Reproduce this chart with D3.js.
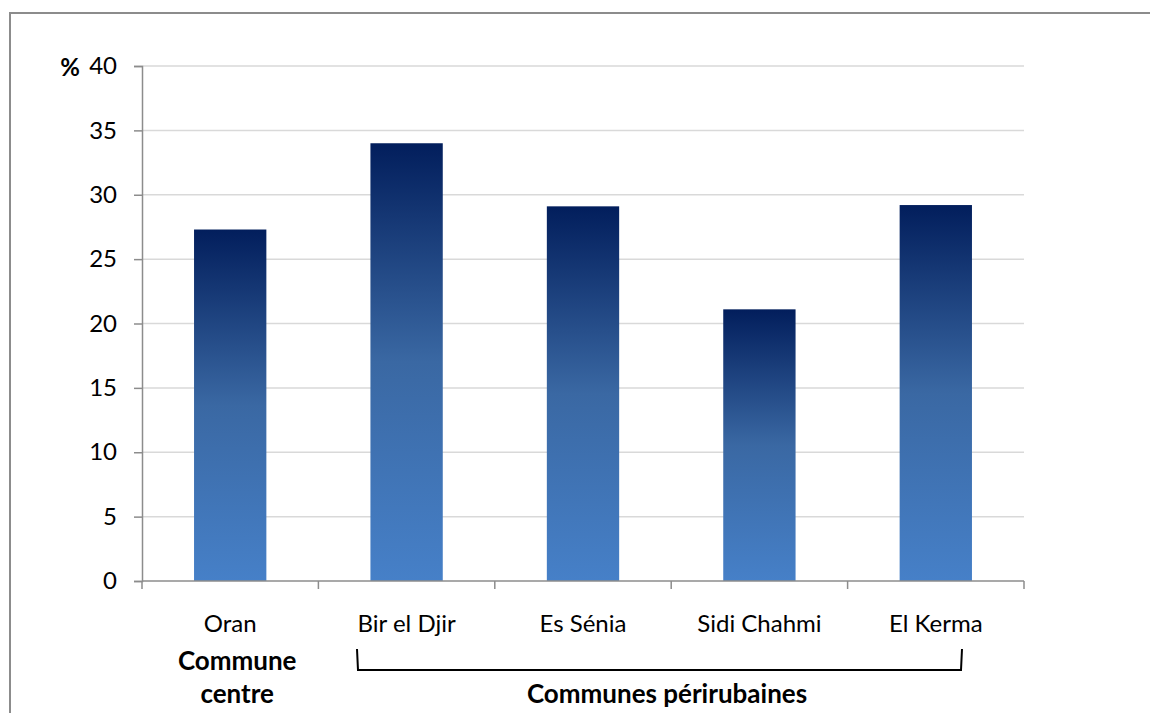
<!DOCTYPE html>
<html>
<head>
<meta charset="utf-8">
<script src="https://cdn.jsdelivr.net/npm/d3@7"></script>
<style>
  html, body { margin: 0; padding: 0; background: #fff; }
  svg { display: block; }
  text { font-family: Lato, "Open Sans", "Liberation Sans", sans-serif; fill: #000; }
</style>
</head>
<body>
<svg id="chart" width="1150" height="713"></svg>
<script>
// Share of households (%) by commune
const communes = ["Oran", "Bir el Djir", "Es Sénia", "Sidi Chahmi", "El Kerma"];
const percentages = [27.3, 34.0, 29.1, 21.1, 29.2];
const yTicks = [0, 5, 10, 15, 20, 25, 30, 35, 40];
const groupCentre = ["Commune", "centre"];
const groupPeri = "Communes périrubaines";

const svg = d3.select("#chart");
const margin = { left: 142, right: 126, top: 66, bottom: 132 };
const W = 1150, H = 713;
const fontReg = 24, fontBold = 26;

const x = d3.scaleBand().domain(communes).range([margin.left, W - margin.right]).paddingInner(0.59).paddingOuter(0.295);
const xEdges = d3.scaleLinear().domain([0, communes.length]).range([margin.left, W - margin.right]);
const y = d3.scaleLinear().domain([0, 40]).range([H - margin.bottom, margin.top]);

// outer frame
svg.append("path")
  .attr("d", `M10,${H + 2} L10,13 L${W + 2},13`)
  .attr("fill", "none").attr("stroke", "#8c8c8c").attr("stroke-width", 2);

// gradient for bars
const defs = svg.append("defs");
const grad = defs.append("linearGradient").attr("id", "barGrad")
  .attr("x1", 0).attr("y1", 0).attr("x2", 0).attr("y2", 1);
grad.append("stop").attr("offset", "0%").attr("stop-color", "#021e5c");
grad.append("stop").attr("offset", "50%").attr("stop-color", "#3a68a3");
grad.append("stop").attr("offset", "100%").attr("stop-color", "#4680c8");

// gridlines
svg.append("g").selectAll("line").data(yTicks.filter(d => d > 0)).join("line")
  .attr("x1", margin.left).attr("x2", W - margin.right)
  .attr("y1", d => y(d)).attr("y2", d => y(d))
  .attr("stroke", "#d9d9d9").attr("stroke-width", 1.5);

// bars
svg.append("g").selectAll("rect").data(percentages).join("rect")
  .attr("x", (d, i) => x(communes[i]))
  .attr("width", x.bandwidth())
  .attr("y", d => y(d))
  .attr("height", d => y(0) - y(d))
  .attr("fill", "url(#barGrad)");

// y axis
const yAxis = d3.axisLeft(y).tickValues(yTicks).tickSize(8).tickPadding(17);
const gy = svg.append("g").attr("transform", `translate(${margin.left},0)`).call(yAxis);
gy.select(".domain").attr("stroke", "#8c8c8c").attr("stroke-width", 1.5);
gy.selectAll(".tick line").attr("stroke", "#8c8c8c").attr("stroke-width", 1.5);
gy.selectAll(".tick text").attr("font-size", fontReg).attr("font-family", "Lato, 'Open Sans', sans-serif").attr("fill", "#000");

// x axis baseline and category ticks
svg.append("line")
  .attr("x1", margin.left).attr("x2", W - margin.right)
  .attr("y1", y(0)).attr("y2", y(0))
  .attr("stroke", "#8c8c8c").attr("stroke-width", 1.5);
svg.append("g").selectAll("line").data(d3.range(communes.length + 1)).join("line")
  .attr("x1", d => xEdges(d)).attr("x2", d => xEdges(d))
  .attr("y1", y(0)).attr("y2", y(0) + 8)
  .attr("stroke", "#8c8c8c").attr("stroke-width", 1.5);

// category labels
svg.append("g").selectAll("text").data(communes).join("text")
  .attr("x", d => x(d) + x.bandwidth() / 2)
  .attr("y", 632)
  .attr("text-anchor", "middle")
  .attr("font-size", fontReg)
  .text(d => d);

// unit label
svg.append("text").attr("x", 70).attr("y", 76).attr("text-anchor", "middle")
  .attr("font-size", fontReg).attr("font-weight", "bold").text("%");

// group labels
const cOran = x(communes[0]) + x.bandwidth() / 2 + 7;
svg.append("g").selectAll("text").data(groupCentre).join("text")
  .attr("x", cOran)
  .attr("y", (d, i) => 670 + i * 33)
  .attr("text-anchor", "middle")
  .attr("font-size", fontBold).attr("font-weight", "bold")
  .text(d => d);

// bracket over the peri-urban communes
const bx1 = 357, bx2 = 962;
svg.append("path")
  .attr("d", `M${bx1},649 L${bx1 + 1},670 L${bx2 - 1},670 L${bx2},649`)
  .attr("fill", "none").attr("stroke", "#000").attr("stroke-width", 2);

svg.append("text")
  .attr("x", 667).attr("y", 703)
  .attr("text-anchor", "middle")
  .attr("font-size", fontBold).attr("font-weight", "bold")
  .text(groupPeri);
</script>
</body>
</html>
